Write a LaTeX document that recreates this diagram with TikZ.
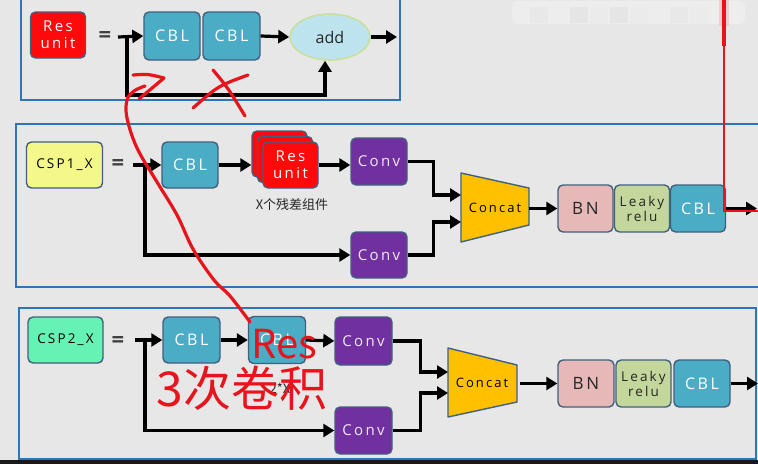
\documentclass[tikz,border=0pt]{standalone}
\usepackage{fontspec}
\setmainfont{Open Sans}
\newfontfamily\cjk{Noto Sans CJK SC}
\newfontfamily\boxf[LetterSpace=16]{Open Sans}
\usetikzlibrary{arrows.meta,shapes.geometric}
\definecolor{bg}{HTML}{E7E7E7}
\definecolor{panel}{HTML}{2E75B6}
\definecolor{bord}{HTML}{41607E}
\definecolor{cblc}{HTML}{4BACC6}
\definecolor{convc}{HTML}{7030A0}
\definecolor{bnc}{HTML}{E6B9B8}
\definecolor{lrc}{HTML}{C3D69B}
\definecolor{catc}{HTML}{FFC000}
\definecolor{ylc}{HTML}{F4F78A}
\definecolor{mintc}{HTML}{66F2B5}
\definecolor{resc}{HTML}{FF0A0A}
\definecolor{addf}{HTML}{BDE3EE}
\definecolor{addb}{HTML}{C9E09B}
\definecolor{inkred}{HTML}{E8141C}
\tikzset{
  blk/.style={draw=bord, line width=1.4pt, rounded corners=5pt, inner sep=0pt,
    minimum width=56pt, minimum height=47pt, align=center},
  cbl/.style={blk, fill=cblc, text=white, font=\boxf\fontsize{16}{17}\selectfont},
  conv/.style={blk, fill=convc, text=white!90!convc, font=\boxf\fontsize{15}{16}\selectfont},
  resu/.style={blk, fill=resc, text=white, font=\boxf\fontsize{15}{17}\selectfont, minimum width=55pt, minimum height=46pt},
  lbl/.style={blk, text=black, font=\boxf\fontsize{13.5}{14}\selectfont, minimum width=76pt, minimum height=46pt},
  bn/.style={blk, fill=bnc, text=black!85, font=\boxf\fontsize{17}{18}\selectfont, minimum width=55pt},
  lr/.style={blk, fill=lrc, text=black!85, font=\boxf\fontsize{13.5}{15}\selectfont, minimum width=55pt},
  cat/.style={draw=bord, line width=1.4pt, fill=catc, line join=round},
  cattext/.style={font=\boxf\fontsize{13}{14}\selectfont, text=black},
  eqs/.style={font=\bfseries\fontsize{22}{22}\selectfont, text=black!75},
  arr/.style={line width=3.2pt, -{Triangle[length=11pt,width=13pt]}},
  frame/.style={draw=panel, line width=2.2pt},
  hand/.style={draw=inkred, line width=3.2pt, line cap=round, line join=round},
}
\begin{document}
\begin{tikzpicture}[x=1pt,y=-1pt]
\fill[bg] (0,0) rectangle (758,464);
\useasboundingbox (0,0) rectangle (758,464);
% blurred mosaic at top right
\fill[black!7, rounded corners=6pt] (512,1) rectangle (745,24);
\foreach \xx/\gg in {530/9,550/7,570/10,590/8,610/10,630/8,650/7,670/9,690/8}{
  \fill[black!\gg] (\xx,7) rectangle ++(18,16);}
% panels
\draw[frame] (21,-5) rectangle (400,100);
\draw[frame] (16,124) rectangle (775,287);
\draw[frame] (19,308) rectangle (756,459);

% ---------- panel 1 ----------
\node[resu] (res0) at (58,35) {Res\\unit};
\node[eqs] (eq1) at (105,37) {=};
\coordinate (s1) at (118,37);
\coordinate (j1) at (127,37);
\node[cbl, minimum height=48pt] (cbl1a) at (172,36) {CBL};
\node[cbl, minimum height=48pt, minimum width=57pt] (cbl1b) at (231.5,36) {CBL};
\node[ellipse, draw=addb, fill=addf, line width=1.6pt, minimum width=80pt, minimum height=46pt,
  inner sep=0pt, font=\fontsize{16}{17}\selectfont, text=black!85] (add) at (330,37) {add};
\coordinate (o1) at (397,37);
\coordinate (fb1) at (325,95);
\draw[arr] (s1) -- (cbl1a.west);
\draw[arr] (cbl1b.east) -- (add.west);
\draw[arr] (add.east) -- (o1);
\draw[arr] (j1) |- (fb1) -- (add.south -| fb1);

% ---------- panel 2 ----------
\node[lbl, fill=ylc] (csp1) at (64.5,165) {CSP1\_X};
\node[eqs] (eq2) at (118,165) {=};
\coordinate (s2) at (133,165);
\coordinate (j2) at (145,165);
\node[cbl, minimum height=46pt] (cbl2) at (190,165) {CBL};
\node[resu] (resB) at (279.5,154) {};
\node[resu] (resM) at (285,159.5) {};
\node[resu] (resF) at (290.5,165) {Res\\unit};
\node[font=\cjk\fontsize{13}{14}\selectfont, text=black!85] (xres) at (292,205) {X个残差组件};
\node[conv] (conv1a) at (379,161.5) {Conv};
\node[conv, minimum height=46pt] (conv1b) at (379,255) {Conv};
\coordinate (c1in1) at (461,195);
\coordinate (c1in2) at (461,222);
\coordinate (c1out) at (529,208.5);
\draw[cat] (461,173) -- (529,188) -- (529,225) -- (461,242) -- cycle;
\node[cattext] (cat1) at (495,208) {Concat};
\node[bn] (bn1) at (585.5,208.5) {BN};
\node[lr] (lr1) at (642,208.5) {Leaky\\relu};
\node[cbl, minimum width=55pt] (cbl2c) at (698,208.5) {CBL};
\coordinate (o2) at (757,208.5);
\draw[arr] (s2) -- (cbl2.west);
\draw[arr] (cbl2.east) -- (cbl2.east -| resB.west);
\draw[arr] (resF.east) -- (resF.east -| conv1a.west);
\draw[arr] (j2) |- (conv1b.west);
\draw[arr] (conv1a.east) -- ++(26,0) |- (c1in1);
\draw[arr] (conv1b.east) -- ++(26,0) |- (c1in2);
\draw[arr] (c1out) -- (bn1.west);
\draw[arr] (cbl2c.east) -- (o2);

% ---------- panel 3 ----------
\node[lbl, fill=mintc, minimum width=75pt] (csp2) at (65.5,340) {CSP2\_X};
\node[eqs] (eq3) at (118,342) {=};
\coordinate (s3) at (135,340);
\coordinate (j3) at (145,340);
\node[cbl, minimum width=57pt, minimum height=46pt] (cbl3a) at (191.5,340) {CBL};
\node[cbl, minimum width=57pt] (cbl3b) at (277,340) {CBL};
\node[font=\cjk\fontsize{13}{14}\selectfont, text=black!85] (twox) at (280,388) {2*X};
\node[conv, minimum width=57pt, minimum height=48pt] (conv2a) at (363.5,341) {Conv};
\node[conv, minimum width=57pt] (conv2b) at (363.5,430.5) {Conv};
\coordinate (c2in1) at (448,372);
\coordinate (c2in2) at (448,393);
\coordinate (c2out) at (517,383.5);
\draw[cat] (448,348) -- (517,365) -- (517,402) -- (448,417) -- cycle;
\node[cattext] (cat2) at (482,383) {Concat};
\node[bn, minimum width=56pt] (bn2) at (586,383.5) {BN};
\node[lr] (lr2) at (643.5,383.5) {Leaky\\relu};
\node[cbl] (cbl3c) at (702,383.5) {CBL};
\coordinate (o3) at (758,383.5);
\draw[arr] (s3) -- (cbl3a.west);
\draw[arr] (cbl3a.east) -- (cbl3b.west);
\draw[arr] (cbl3b.east) -- (conv2a.west);
\draw[arr] (j3) |- (conv2b.west);
\draw[arr] (conv2a.east) -- ++(28,0) |- (c2in1);
\draw[arr] (conv2b.east) -- ++(28,0) |- (c2in2);
\draw[arr] ([xshift=3pt]c2out) -- (bn2.west);
\draw[arr] (cbl3c.east) -- (o3);

% bottom strip
\fill[black!90] (0,460) rectangle (758,464);

% ---------- red annotations ----------
\fill[inkred!30, opacity=0.6] (719,0) rectangle (729,26);
\draw[inkred, line width=4pt] (724,0) -- (724,46);
\draw[inkred, line width=2pt] (724,46) -- (724,211) -- (758,211);
\draw[hand] plot[smooth, tension=0.6] coordinates {(250,322) (230,296) (214,280) (193,249) (177,215) (157,182) (137,148) (127,118) (127,100) (134,91) (145,86)};
\draw[hand] (133,75) .. controls (148,74) .. (164,78) -- (139,99);
\draw[hand] (213,70) .. controls (228,88) .. (245,116);
\draw[hand] (193,108) .. controls (218,86) .. (248,75);
\node[font=\cjk\fontsize{40}{40}\selectfont, text=inkred] (resw) at (284,344) {Res};
\node[font=\cjk\fontsize{48}{48}\selectfont, text=inkred] (juanji) at (242,388) {3次卷积};
\end{tikzpicture}
\end{document}
